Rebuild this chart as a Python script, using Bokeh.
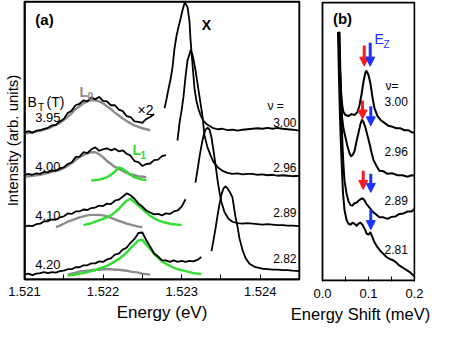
from bokeh.plotting import figure
from bokeh.layouts import row
from bokeh.models import FixedTicker, PrintfTickFormatter, Arrow, NormalHead, Span
from bokeh.core.properties import value
from bokeh.embed import file_html
from bokeh.resources import INLINE

FONT = "Liberation Sans"
GRAY = "#8c8c8c"
GREEN = "#2ee02e"
RED = "#ff1a1a"
BLUE = "#1a33ff"

# ---------------- data : panel (a) ----------------
x_ticks_a = [1.521, 1.522, 1.523, 1.524]
x_minor_a = [1.5215, 1.5225, 1.5235]
x_ticks_b = [0.0, 0.1, 0.2]
x_minor_b = [0.05, 0.15]

field_labels = ["3.95", "4.00", "4.10", "4.20"]
nu_labels_a = ["3.00", "2.96", "2.89", "2.82"]
nu_labels_b = ["3.00", "2.96", "2.89", "2.81"]

e_grid = [1.52100, 1.52105, 1.52110, 1.52115, 1.52120, 1.52125, 1.52130, 1.52135, 1.52140, 1.52145,
          1.52150, 1.52155, 1.52160, 1.52165, 1.52170, 1.52175, 1.52180, 1.52185, 1.52190, 1.52195,
          1.52200, 1.52205, 1.52210, 1.52215, 1.52220, 1.52225, 1.52230, 1.52235, 1.52240, 1.52245,
          1.52250, 1.52255, 1.52260, 1.52265, 1.52270, 1.52275, 1.52280, 1.52285, 1.52290, 1.52295,
          1.52300, 1.52305, 1.52310, 1.52315, 1.52320, 1.52325]

# low-energy (x2) spectra
low_395 = [150, 151.5, 150, 152, 152.5, 154, 155, 157.5, 158, 161.5, 164, 170, 172.5, 178, 179.5, 183, 182,
           186, 184, 186.5, 182.5, 182, 178, 178, 173.5, 172, 167, 166, 161.5, 161, 160, 164, 166, 169]
gray_395 = [149, 149.5, 150, 151, 152, 153, 154.5, 156, 158, 160, 163, 166, 170, 174, 177, 180, 182, 183,
            183, 182, 180, 177, 174, 170.5, 167.5, 164.5, 162, 159.5, 157.5, 156, 154.5, 153.5, 152.5]
low_400 = [107, 108, 107, 108.5, 108, 110, 109.5, 111.5, 111, 113.5, 114.5, 118, 119.5, 125, 125.5, 130, 129,
           133, 135, 131.5, 133, 134, 132, 133.5, 131, 132, 128.5, 126.5, 121, 120, 116, 118, 118.5, 122,
           122.5, 126, 127]
gray_400 = [105, 105.5, 106, 106.5, 107, 108, 109, 110, 111, 112, 114, 116, 119, 122, 125, 127, 129, 130,
            130, 128, 125, 121, 118, 115, 113, 111, 109, 107.5, 106.5, 105.5, 105, 104.5]
green_400 = [101, 101.5, 102, 103, 104.5, 107, 110, 114.5, 113, 110, 107, 104.5, 103, 102, 101.5]
low_410 = [54, 55, 54.5, 56.5, 57, 59.5, 59.5, 61.5, 61, 63.5, 64.5, 67.5, 67, 69.5, 69.5, 71.5, 71, 73,
           73.5, 75.5, 75, 77.5, 77, 80.5, 81.5, 84.5, 88, 86, 82.5, 77.5, 74.5, 70.5, 68.5, 66.5, 67, 65.5,
           67.5, 67, 69.5, 70.5, 74.5, 82]
gray_410 = [53.5, 55, 57, 59, 60.5, 62, 63.5, 64.5, 65.5, 66, 66, 66, 65.5, 64.5, 63, 61.5, 60, 58.5, 57,
            56, 55, 54, 53.5]
green_410 = [55.5, 56.5, 57.5, 59, 60.5, 62, 63.5, 65.5, 68.5, 72, 76.5, 80.5, 82.5, 79, 75.5, 72, 68.5, 65,
             62.5, 60.5, 59, 58, 57, 56.5, 56, 55.5]
low_420 = [5, 6, 4.5, 6, 6.5, 7.5, 6.5, 7.5, 7, 8.5, 9, 10.5, 10.5, 12.5, 12.5, 14.5, 14.5, 16.5, 16.5, 18.5,
           18, 20.5, 21.5, 25.5, 26.5, 30.5, 32.5, 37.5, 41.5, 47.5, 48, 40, 33.5, 26.5, 23.5, 19.5, 19.5, 18,
           19.5, 18, 19, 18, 19, 18.5, 20, 23]
gray_420 = [5, 6, 7, 8, 8.5, 9, 9.5, 10, 10, 10.5, 10.5, 10.5, 10, 10, 9.5, 9, 8, 7.5, 7, 6, 5.5, 5]
green_420 = [4, 4.5, 5, 6, 6.5, 7.5, 8.5, 9.5, 11, 12.5, 14, 16, 18.5, 21, 24, 27.5, 32, 36, 40, 40.5, 35.5,
             31, 26, 22, 18.5, 16, 14, 12, 10.5, 9.5, 8.5, 7.5, 6.5, 6, 5.5]

# exciton (X) peaks
xe_300 = [1.522782, 1.522807, 1.522833, 1.522858, 1.522884, 1.522909, 1.522935, 1.522960, 1.522985,
          1.523011, 1.523036, 1.523049, 1.523075, 1.523100, 1.523113, 1.523138, 1.523164, 1.523189,
          1.523215, 1.523240, 1.523278, 1.523329, 1.523393, 1.523456, 1.523520, 1.523584, 1.523647,
          1.523711, 1.523775, 1.523838, 1.523902, 1.523965, 1.524029, 1.524093, 1.524156, 1.524220,
          1.524284, 1.524347, 1.524411, 1.524500]
xi_300 = [175, 184, 195, 204, 217, 236, 249, 258, 266, 275, 282, 282, 278, 264, 245, 220, 195, 182, 174,
          168, 162, 158, 155, 153.5, 154, 152.5, 153, 152, 153, 153.5, 154, 154.5, 154, 155, 154, 155, 154,
          153.5, 153, 152]
xe_296 = [1.522947, 1.522973, 1.522998, 1.523024, 1.523049, 1.523075, 1.523100, 1.523113, 1.523138,
          1.523176, 1.523227, 1.523265, 1.523291, 1.523329, 1.523367, 1.523405, 1.523456, 1.523520,
          1.523584, 1.523647, 1.523711, 1.523775, 1.523838, 1.523902, 1.523965, 1.524029, 1.524093,
          1.524156, 1.524220, 1.524284, 1.524347, 1.524411, 1.524500]
xi_296 = [142, 160, 172, 187, 207, 224, 230, 234, 230, 214, 187, 167, 147, 135, 127, 120, 115, 111, 109,
          108, 108.5, 107.5, 108, 108, 107, 107.5, 106.5, 107, 106, 106.5, 106, 105.5, 106]
xe_289 = [1.523176, 1.523202, 1.523227, 1.523253, 1.523278, 1.523304, 1.523329, 1.523355, 1.523380,
          1.523405, 1.523431, 1.523456, 1.523482, 1.523507, 1.523545, 1.523596, 1.523647, 1.523711,
          1.523775, 1.523838, 1.523902, 1.523965, 1.524029, 1.524093, 1.524156, 1.524220, 1.524284,
          1.524347, 1.524411, 1.524500]
xi_289 = [99, 112, 125, 137, 147, 153, 155, 153, 145, 132, 117, 102, 89, 79, 69, 62, 59, 57.5, 57, 57.5, 57,
          56.5, 56, 56.5, 56, 55.5, 55.5, 55, 55, 54.5]
xe_282 = [1.523380, 1.523405, 1.523431, 1.523456, 1.523482, 1.523507, 1.523533, 1.523558, 1.523584,
          1.523609, 1.523635, 1.523647, 1.523660, 1.523685, 1.523711, 1.523736, 1.523775, 1.523813,
          1.523864, 1.523927, 1.524029, 1.524093, 1.524156, 1.524220, 1.524284, 1.524347, 1.524411,
          1.524500]
xi_282 = [29, 40, 52, 65, 77, 87, 93, 95, 93, 90, 86, 84, 77, 64, 54, 42, 30, 22, 16, 13, 11, 10.5, 10, 10,
          9.5, 9.5, 9, 8.5]

# ---------------- data : panel (b) ----------------
bx_300 = [0.0348, 0.0370, 0.0391, 0.0413, 0.0435, 0.0457, 0.0500, 0.0565, 0.0630, 0.0696, 0.0761, 0.0804,
          0.0848, 0.0891, 0.0935, 0.0957, 0.1000, 0.1043, 0.1087, 0.1130, 0.1196, 0.1261, 0.1348, 0.1435,
          0.1522, 0.1609, 0.1696, 0.1783, 0.1870, 0.1935, 0.2000]
by_300 = [254, 227, 202, 187, 177, 172, 169, 168, 170, 169, 172, 179, 190, 203, 213, 214, 210, 201, 187,
          176, 168, 164, 161, 158, 157, 155.5, 155.5, 153.5, 153.5, 151.5, 151]
bx_296 = [0.0359, 0.0380, 0.0402, 0.0424, 0.0457, 0.0500, 0.0543, 0.0587, 0.0620, 0.0652, 0.0696, 0.0739,
          0.0783, 0.0826, 0.0859, 0.0891, 0.0935, 0.0978, 0.1022, 0.1065, 0.1109, 0.1174, 0.1239, 0.1326,
          0.1413, 0.1522, 0.1630, 0.1739, 0.1848, 0.1935, 0.2000]
by_296 = [254, 217, 187, 167, 155, 146, 137, 130, 127, 128, 132, 142, 151, 160, 164, 162, 156, 148, 140,
          131, 123, 117, 112, 111.5, 109, 109.5, 107.5, 107.5, 106, 107.5, 107]
bx_289 = [0.0370, 0.0391, 0.0413, 0.0435, 0.0457, 0.0478, 0.0522, 0.0565, 0.0609, 0.0652, 0.0696, 0.0739,
          0.0783, 0.0826, 0.0870, 0.0913, 0.0957, 0.1022, 0.1087, 0.1152, 0.1239, 0.1326, 0.1413, 0.1500,
          0.1587, 0.1674, 0.1761, 0.1848, 0.1935, 0.2000]
by_289 = [254, 207, 167, 137, 117, 102, 89, 81, 77, 76.5, 79, 79.5, 81.5, 83, 84, 82, 78, 74.5, 70.5, 68,
          64.5, 64.5, 63, 65, 65.5, 68, 68.5, 70.5, 70.5, 73]
bx_281 = [0.0337, 0.0359, 0.0380, 0.0402, 0.0424, 0.0446, 0.0478, 0.0522, 0.0565, 0.0609, 0.0652, 0.0696,
          0.0739, 0.0783, 0.0826, 0.0870, 0.0913, 0.0935, 0.0957, 0.1000, 0.1043, 0.1087, 0.1130, 0.1196,
          0.1261, 0.1326, 0.1391, 0.1457, 0.1522, 0.1587, 0.1652, 0.1717, 0.1783, 0.1848, 0.1913, 0.1957,
          0.2000]
by_281 = [254, 207, 167, 137, 112, 89, 72, 62, 58, 57, 59, 58, 56, 58, 59, 57, 53, 51, 48, 47, 49, 44, 39,
          34, 30, 27, 24, 22, 21, 19, 16, 14, 12, 10, 8, 6, 4]

# Zeeman-energy arrows
red_x = [0.0907, 0.0870, 0.0885]
red_top = [240, 184, 112]
red_tip = [216, 162, 90]
blue_x = [0.1037, 0.1050, 0.1050, 0.1050]
blue_top = [243, 178, 109, 72]
blue_tip = [216, 155, 87, 49]

# panel extents (axis limits of each panel box)
a_lim = (1.521, 1.5245)
b_lim = (0.0, 0.2)
i_lim = (0, 284)


def txt(p, x, y, s, size, color="black", align="left", style="normal"):
    p.text(x=[x], y=[y], text=[s], text_font=value(FONT), text_font_size=value(size),
           text_color=color, text_align=align, text_baseline="middle", text_font_style=style)


def style_xaxis(ax, ticks, minor, fmt, label, label_size, line_color):
    ax.ticker = FixedTicker(ticks=ticks, minor_ticks=minor)
    ax.formatter = PrintfTickFormatter(format=fmt)
    ax.major_tick_in = 5
    ax.major_tick_out = 0
    ax.minor_tick_in = 5
    ax.minor_tick_out = 0
    ax.major_tick_line_color = "black"
    ax.minor_tick_line_color = "black"
    ax.major_label_text_font = FONT
    ax.major_label_text_font_size = "13px"
    ax.major_label_text_color = "black"
    ax.major_label_standoff = 7
    ax.axis_label = label
    ax.axis_label_text_font = FONT
    ax.axis_label_text_font_size = label_size
    ax.axis_label_text_font_style = "normal"
    ax.axis_label_text_color = "black"
    ax.axis_label_standoff = 4
    ax.axis_line_color = line_color
    ax.axis_line_width = 1.5


PXB = 0.2 / 92.0            # meV per screen pixel in panel (b)
KY = 284.0 / 278.0          # intensity units per screen pixel

# ---------------- panel (a) ----------------
pa = figure(frame_width=275, frame_height=278,
            x_range=a_lim, y_range=i_lim,
            output_backend="svg", toolbar_location=None,
            min_border_left=24, min_border_right=7, min_border_top=1, min_border_bottom=48)
pa.grid.visible = False
pa.outline_line_color = "black"
pa.outline_line_width = 1.5
pa.background_fill_color = None
pa.border_fill_color = None
style_xaxis(pa.xaxis[0], x_ticks_a, x_minor_a, "%.3f", "Energy (eV)", "17px", "black")
ay = pa.yaxis[0]
ay.ticker = FixedTicker(ticks=[])
ay.major_tick_out = 0
ay.major_tick_in = 0
ay.minor_tick_out = 0
ay.minor_tick_in = 0
ay.major_label_standoff = 0
ay.axis_label = "Intensity (arb. units)"
ay.axis_label_text_font = FONT
ay.axis_label_text_font_size = "15px"
ay.axis_label_text_font_style = "normal"
ay.axis_label_text_color = "black"
ay.axis_label_standoff = 4
ay.axis_line_color = "black"
ay.axis_line_width = 1.5
pa.quad(left=[a_lim[0]], right=[a_lim[1]], bottom=[i_lim[0]], top=[i_lim[1]],
        fill_color=None, line_color="black", line_width=2)
pa.add_layout(Span(location=a_lim[0], dimension="height", line_color="black", line_width=2))
pa.add_layout(Span(location=i_lim[1], dimension="width", line_color="black", line_width=2))

fits = [
    (e_grid[0:33], gray_395, GRAY),
    (e_grid[0:32], gray_400, GRAY),
    (e_grid[17:32], green_400, GREEN),
    (e_grid[8:31], gray_410, GRAY),
    (e_grid[15:41], green_410, GREEN),
    (e_grid[11:33], gray_420, GRAY),
    (e_grid[11:46], green_420, GREEN),
]
for xs, ys, c in fits:
    pa.line(xs, ys, line_color=c, line_width=2.4, line_join="round")

spectra = [
    (e_grid[0:34], low_395), (e_grid[0:37], low_400), (e_grid[0:42], low_410), (e_grid[0:46], low_420),
    (xe_300, xi_300), (xe_296, xi_296), (xe_289, xi_289), (xe_282, xi_282),
]
for xs, ys in spectra:
    pa.line(xs, ys, line_color="black", line_width=1.8, line_join="round")

txt(pa, 1.521255, 266, "(a)", "15px", style="bold", align="center")
txt(pa, 1.523316, 260, "X", "14px", style="bold", align="center")
txt(pa, 1.521038, 181, "B", "14px")
txt(pa, 1.521172, 176, "T", "10px")
txt(pa, 1.521280, 181, "(T)", "14px")
for lab, yy in zip(field_labels, [165, 115, 65, 15]):
    txt(pa, 1.521458, yy, lab, "13px", align="right")
txt(pa, 1.522438, 173, "×2", "14px")
txt(pa, 1.521700, 192, "L", "14px", color=GRAY, style="bold")
txt(pa, 1.521802, 187, "0", "10px", color=GRAY, style="bold")
txt(pa, 1.522375, 132, "L", "14px", color=GREEN, style="bold")
txt(pa, 1.522476, 127, "1", "10px", color=GREEN, style="bold")
txt(pa, 1.524093, 177, "ν =", "12px")
for lab, yy in zip(nu_labels_a, [160, 114, 68, 21]):
    txt(pa, 1.524462, yy, lab, "12px", align="right")

# ---------------- panel (b) ----------------
pb = figure(frame_width=110, frame_height=280,
            x_range=(-17 * PXB, 0.2 + PXB), y_range=(-KY, 284 + KY),
            output_backend="svg", toolbar_location=None, y_axis_location=None,
            min_border_left=20, min_border_right=21, min_border_top=0, min_border_bottom=47,
            margin=(0, 0, 0, -21))
pb.grid.visible = False
pb.outline_line_color = None
pb.background_fill_color = None
pb.border_fill_color = None
style_xaxis(pb.xaxis[0], x_ticks_b, x_minor_b, "%.1f", "Energy Shift (meV)", "16.5px", None)
pb.quad(left=[b_lim[0]], right=[b_lim[1]], bottom=[i_lim[0]], top=[i_lim[1]],
        fill_color=None, line_color="black", line_width=1.8)

for xs, ys in [(bx_300, by_300), (bx_296, by_296), (bx_289, by_289), (bx_281, by_281)]:
    pb.line(xs, ys, line_color="black", line_width=2.0, line_join="round")

for xx, y0, y1 in zip(red_x, red_top, red_tip):
    pb.add_layout(Arrow(end=NormalHead(size=9, fill_color=RED, line_color=RED, line_width=1),
                        x_start=xx, y_start=y0, x_end=xx, y_end=y1 + 3,
                        line_color=RED, line_width=3))
for xx, y0, y1 in zip(blue_x, blue_top, blue_tip):
    pb.add_layout(Arrow(end=NormalHead(size=9, fill_color=BLUE, line_color=BLUE, line_width=1),
                        x_start=xx, y_start=y0, x_end=xx, y_end=y1 + 3,
                        line_color=BLUE, line_width=3))

txt(pb, 0.0435, 268, "(b)", "15px", style="bold", align="center")
txt(pb, 0.1130, 247, "E", "14px", color=BLUE)
txt(pb, 0.1326, 241, "Z", "10px", color=BLUE)
txt(pb, 0.1370, 199, "ν=", "12px")
for lab, yy in zip(nu_labels_b, [183, 132, 82, 32]):
    txt(pb, 0.1348, yy, lab, "12px")

layout = row(pa, pb)
open("out.html", "w").write(file_html(layout, INLINE))
